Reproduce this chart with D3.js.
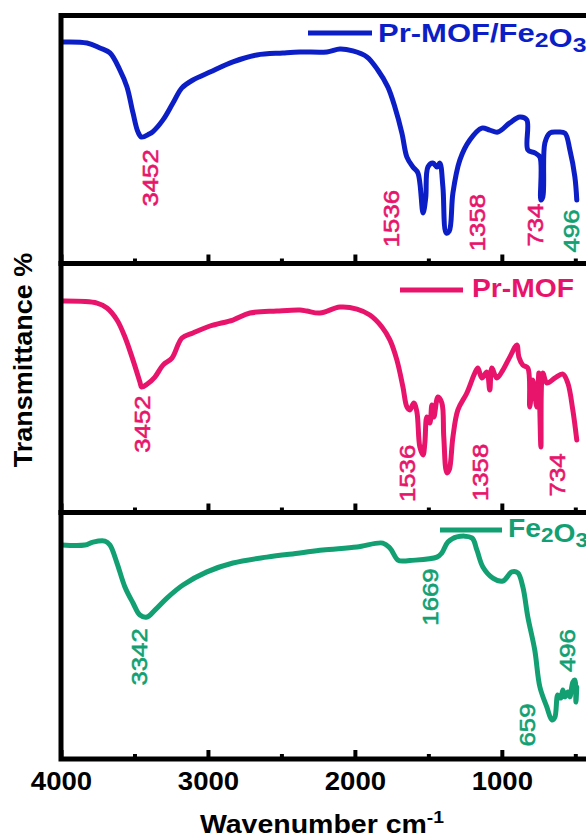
<!DOCTYPE html>
<html>
<head>
<meta charset="utf-8">
<script src="https://cdn.jsdelivr.net/npm/d3@7/dist/d3.min.js"></script>
<style>
  html, body { margin: 0; padding: 0; background: #fff; overflow: hidden; }
  svg { display: block; font-family: "Liberation Sans", Arial, Helvetica, sans-serif; }
</style>
</head>
<body>
<svg id="chart" width="586" height="839"></svg>
<script>
// FTIR spectra: [wavenumber (cm-1), relative transmittance] for each sample
const prMofFe2o3 = [
  [3990, 89.3], [3823, 88.9], [3735, 86.9], [3667, 84.9], [3599, 78.0], [3551, 71.2],
  [3510, 60.7], [3476, 53.0], [3452, 51.0], [3400, 52.2], [3374, 53.2], [3306, 57.9],
  [3238, 64.7], [3177, 70.8], [3102, 74.0], [2986, 77.2], [2830, 81.3], [2667, 84.1],
  [2490, 84.9], [2374, 85.3], [2190, 85.3], [2102, 86.5], [2014, 85.7], [1918, 83.3],
  [1844, 78.0], [1776, 71.2], [1728, 63.1], [1680, 52.6], [1646, 42.9], [1605, 38.9],
  [1571, 36.5], [1536, 20.4], [1518, 26.5], [1503, 38.9], [1469, 40.5], [1442, 38.9],
  [1422, 40.5], [1401, 30.8], [1378, 12.3], [1358, 13.0], [1333, 28.4], [1286, 41.7],
  [1218, 49.8], [1136, 54.6], [1082, 53.8], [1027, 53.0], [946, 56.7], [878, 59.1],
  [830, 57.9], [823, 45.8], [776, 44.6], [741, 42.9], [734, 25.6], [721, 26.8],
  [707, 48.6], [673, 52.6], [626, 53.0], [571, 52.6], [537, 45.8], [503, 34.9],
  [490, 25.6]
];

const prMof = [
  [3990, 84.9], [3755, 84.1], [3687, 82.1], [3619, 77.3], [3565, 70.5], [3510, 61.2],
  [3463, 52.4], [3452, 50.4], [3415, 51.5], [3361, 54.4], [3306, 59.2], [3245, 62.0],
  [3177, 70.1], [3102, 72.1], [2986, 74.9], [2830, 77.3], [2714, 80.1], [2531, 80.9],
  [2374, 81.3], [2327, 80.9], [2238, 80.1], [2102, 82.5], [1986, 81.7], [1898, 79.3],
  [1816, 74.5], [1762, 69.3], [1714, 61.2], [1673, 50.4], [1646, 42.4], [1626, 41.2],
  [1599, 44.0], [1578, 40.4], [1558, 26.3], [1536, 23.1], [1524, 27.9], [1510, 38.4],
  [1490, 35.9], [1476, 43.2], [1462, 38.4], [1435, 46.4], [1408, 44.0], [1395, 30.3],
  [1374, 15.9], [1358, 17.1], [1333, 30.3], [1299, 41.2], [1238, 48.0], [1184, 56.0],
  [1163, 58.0], [1136, 54.0], [1102, 56.4], [1082, 49.2], [1068, 58.0], [1034, 54.0],
  [993, 57.2], [946, 62.4], [898, 67.3], [884, 62.4], [857, 59.2], [823, 58.0],
  [810, 42.4], [789, 53.2], [762, 42.4], [748, 56.0], [741, 40.0], [734, 26.3],
  [721, 56.0], [694, 52.0], [639, 54.0], [585, 55.6], [551, 52.0], [517, 41.2],
  [490, 29.1]
];

const fe2o3 = [
  [3993, 86.8], [3837, 86.8], [3782, 88.0], [3701, 88.4], [3667, 86.8], [3619, 79.5],
  [3565, 69.8], [3510, 63.3], [3463, 58.4], [3415, 57.6], [3361, 60.4], [3279, 65.3],
  [3170, 70.6], [3007, 75.9], [2830, 79.5], [2599, 81.9], [2374, 83.6], [2218, 84.8],
  [1986, 86.0], [1810, 87.6], [1762, 85.6], [1707, 80.7], [1669, 80.3], [1626, 80.5],
  [1442, 81.9], [1408, 83.6], [1367, 88.0], [1306, 90.1], [1204, 89.7], [1170, 84.8],
  [1129, 77.9], [1061, 73.4], [993, 72.2], [932, 75.9], [891, 75.5], [857, 69.8],
  [823, 57.6], [776, 44.2], [741, 29.2], [694, 21.1], [659, 15.8], [639, 17.0],
  [619, 26.0], [599, 24.7], [585, 28.0], [571, 25.2], [551, 27.2], [537, 25.2],
  [517, 31.2], [503, 32.0], [496, 23.1], [490, 29.2]
];

// Axis ticks
const majorTicks = [4000, 3000, 2000, 1000];
const minorTicks = [3500, 2500, 1500, 500];

// Band assignments written beside each spectrum
const bandsTop = ["3452", "1536", "1358", "734", "496"];
const bandsMid = ["3452", "1536", "1358", "734"];
const bandsBottom = ["3342", "1669", "659", "496"];

const seriesNames = ["Pr-MOF/Fe2O3", "Pr-MOF", "Fe2O3"];

// ---------------------------------------------------------------- layout
const BLUE = "#0c1ec6", PINK = "#e8146c", GREEN = "#12a072";
const svg = d3.select("#chart");
const left = 61, right = 590;
const panelEdges = [15.5, 263.5, 512.5, 759];

const x = d3.scaleLinear().domain([4000, 400]).range([left, right]);

// label anchors in (wavenumber, transmittance) units of each panel
const bandPlacement = [
  [[3395, 34.5], [1755, 18.1], [1170, 16.5], [776, 15.5], [531, 13.1]],
  [[3449, 35.5], [1646, 15.7], [1150, 16.1], [626, 15.1]],
  [[3469, 41.4], [1490, 65.7], [830, 13.8], [558, 44.0]]
];
const bandColors = [
  [PINK, PINK, PINK, PINK, GREEN],
  [PINK, PINK, PINK, PINK],
  [GREEN, GREEN, GREEN, GREEN]
];
const legendPlacement = [
  { x0: 308, x1: 372, y: 33, tx: 378, ty: 42, sx: 1.24 },
  { x0: 400, x1: 463, y: 290, tx: 472, ty: 297, sx: 1.13 },
  { x0: 440, x1: 502, y: 530, tx: 508, ty: 537, sx: 1.13 }
];

const panels = [
  { data: prMofFe2o3, color: BLUE, bands: bandsTop },
  { data: prMof, color: PINK, bands: bandsMid },
  { data: fe2o3, color: GREEN, bands: bandsBottom }
];

function stretchedText(g, px, py, rot, sx) {
  return g.append("text")
    .attr("transform", `translate(${px},${py}) rotate(${rot}) scale(${sx},1)`);
}

panels.forEach((p, i) => {
  const top = panelEdges[i], bottom = panelEdges[i + 1];
  const y = d3.scaleLinear().domain([0, 100]).range([bottom, top]);
  const g = svg.append("g");

  // spectrum
  const line = d3.line()
    .x(d => x(d[0])).y(d => y(d[1]))
    .curve(d3.curveCatmullRom.alpha(0.5));
  g.append("path")
    .datum(p.data)
    .attr("d", line)
    .attr("fill", "none")
    .attr("stroke", p.color)
    .attr("stroke-width", 5)
    .attr("stroke-linejoin", "round")
    .attr("stroke-linecap", "round");

  // band labels
  p.bands.forEach((b, j) => {
    const [wn, t] = bandPlacement[i][j];
    stretchedText(g, x(wn), y(t), -90, 1.12)
      .attr("text-anchor", "middle")
      .attr("dominant-baseline", "central")
      .attr("font-size", 23)
      .attr("fill", bandColors[i][j])
      .attr("stroke", bandColors[i][j])
      .attr("stroke-width", 0.6)
      .text(b);
  });

  // legend
  const L = legendPlacement[i];
  g.append("line")
    .attr("x1", L.x0).attr("x2", L.x1).attr("y1", L.y).attr("y2", L.y)
    .attr("stroke", p.color).attr("stroke-width", 5);
  const lt = stretchedText(g, L.tx, L.ty, 0, L.sx)
    .attr("font-size", 25).attr("font-weight", "bold").attr("fill", p.color);
  const name = seriesNames[i];
  // chemical subscripts
  const parts = name.split(/(\d)/).filter(s => s.length);
  parts.forEach(s => {
    if (/^\d$/.test(s)) {
      lt.append("tspan").attr("font-size", 20).attr("dy", 5).text(s);
      lt.append("tspan").attr("dy", -5).text("");
    } else {
      lt.append("tspan").text(s);
    }
  });

  // bottom axis with inward ticks
  const axisMajor = d3.axisBottom(x).tickValues(majorTicks)
    .tickSize(-9).tickFormat(i === 2 ? d3.format("d") : () => "");
  const ga = g.append("g").attr("transform", `translate(0,${bottom})`).call(axisMajor);
  ga.select(".domain").remove();
  ga.selectAll(".tick line").attr("stroke", "#000").attr("stroke-width", 4);
  ga.selectAll(".tick text")
    .attr("font-size", 26).attr("font-weight", "bold").attr("fill", "#000")
    .attr("font-family", "'Liberation Sans', Arial, sans-serif")
    .attr("y", 0).attr("dy", 0)
    .attr("transform", "translate(0,31) scale(1.06,1)");

  const axisMinor = d3.axisBottom(x).tickValues(minorTicks)
    .tickSize(-5).tickFormat(() => "");
  const gm = g.append("g").attr("transform", `translate(0,${bottom})`).call(axisMinor);
  gm.select(".domain").remove();
  gm.selectAll(".tick line").attr("stroke", "#000").attr("stroke-width", 4);

  // frame
  g.append("rect")
    .attr("x", left).attr("y", top)
    .attr("width", right - left).attr("height", bottom - top)
    .attr("fill", "none").attr("stroke", "#000").attr("stroke-width", 5);
});

// axis titles
const xt = stretchedText(svg, 322, 833, 0, 1.14)
  .attr("text-anchor", "middle").attr("font-size", 25).attr("font-weight", "bold");
xt.append("tspan").text("Wavenumber cm");
xt.append("tspan").attr("font-size", 17).attr("dy", -10).text("-1");

stretchedText(svg, 32, 360, -90, 1.08)
  .attr("text-anchor", "middle").attr("font-size", 25).attr("font-weight", "bold")
  .text("Transmittance %");
</script>
</body>
</html>
